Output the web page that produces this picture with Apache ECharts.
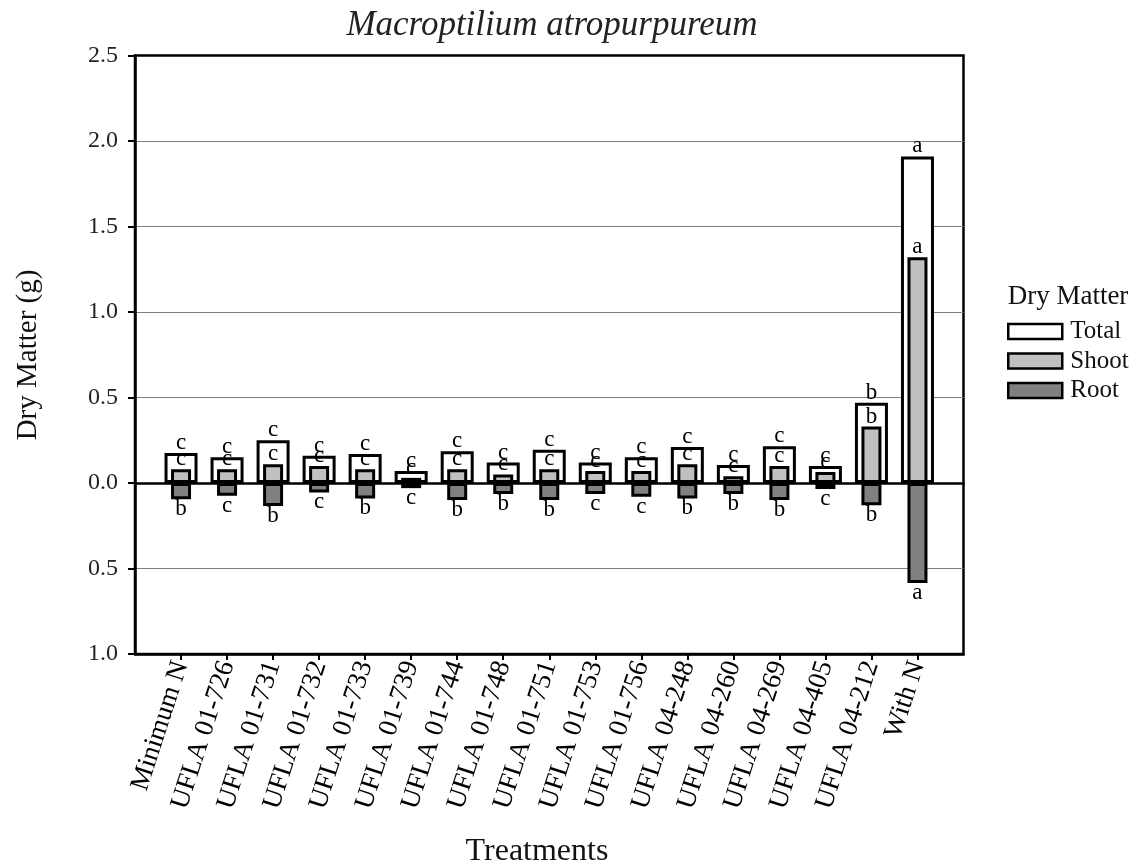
<!DOCTYPE html>
<html>
<head>
<meta charset="utf-8">
<script src="https://cdn.jsdelivr.net/npm/echarts@6/dist/echarts.min.js"></script>
<style>html,body{margin:0;padding:0;background:#fff}#c{width:1137px;height:866px}</style>
</head>
<body>
<div id="c"></div>
<script>
const categories = ['Minimum N','UFLA 01-726','UFLA 01-731','UFLA 01-732','UFLA 01-733','UFLA 01-739','UFLA 01-744','UFLA 01-748','UFLA 01-751','UFLA 01-753','UFLA 01-756','UFLA 04-248','UFLA 04-260','UFLA 04-269','UFLA 04-405','UFLA 04-212','With N'];
const totalValues = [0.175,0.15,0.25,0.16,0.17,0.07,0.185,0.12,0.195,0.12,0.15,0.21,0.105,0.215,0.10,0.47,1.91];
const shootValues = [0.08,0.08,0.11,0.10,0.08,0.03,0.08,0.05,0.08,0.07,0.07,0.11,0.04,0.10,0.065,0.33,1.32];
const rootValues = [-0.095,-0.075,-0.135,-0.055,-0.09,-0.03,-0.10,-0.065,-0.10,-0.065,-0.08,-0.09,-0.065,-0.10,-0.035,-0.13,-0.585];
const totalLetters = ['c','c','c','c','c','c','c','c','c','c','c','c','c','c','c','b','a'];
const shootLetters = ['c','c','c','c','c','c','c','c','c','c','c','c','c','c','c','b','a'];
const rootLetters = ['b','c','b','c','b','c','b','b','b','c','c','b','b','b','c','b','a'];

const FONT = 'Liberation Serif';
const pad = a => [null, ...a, null];
const xCats = ['', ...categories, ''];
const inner = (i) => i > 0 && i < xCats.length - 1;
const letterLabel = (letters, pos) => ({
  show: true, position: pos, distance: 0,
  fontFamily: FONT, fontSize: 23, color: '#000', lineHeight: 20,
  formatter: p => letters[p.dataIndex - 1] || ''
});
const border = {borderColor: '#000', borderWidth: 3};

const chart = echarts.init(document.getElementById('c'));
chart.setOption({
  animation: false,
  backgroundColor: '#fff',
  grid: {left: 135, right: 173.5, top: 55.5, bottom: 212, show: true, borderColor: '#000', borderWidth: 2.5, backgroundColor: 'transparent'},
  xAxis: [{
    type: 'category', data: xCats, boundaryGap: false, position: 'bottom',
    axisLine: {onZero: false, lineStyle: {color: '#000', width: 2.5}},
    axisTick: {show: true, length: 6, lineStyle: {color: '#000', width: 2}, interval: inner},
    axisLabel: {interval: 0, rotate: 72, margin: 8, fontFamily: FONT, fontSize: 27, color: '#000'},
    splitLine: {show: false}
  }, {
    type: 'category', data: xCats, boundaryGap: false, position: 'bottom',
    axisLine: {onZero: true, lineStyle: {color: '#000', width: 2.5}},
    axisTick: {show: false}, axisLabel: {show: false}, splitLine: {show: false}
  }],
  yAxis: {
    type: 'value', min: -1, max: 2.5, interval: 0.5,
    axisLine: {show: true, lineStyle: {color: '#000', width: 2.5}},
    axisTick: {show: true, length: 7, lineStyle: {color: '#000', width: 2}},
    axisLabel: {margin: 17, fontFamily: FONT, fontSize: 24, color: '#222', formatter: v => Math.abs(v).toFixed(1)},
    splitLine: {show: true, showMinLine: false, showMaxLine: false, lineStyle: {color: '#808080', width: 1.2}}
  },
  legend: {
    orient: 'vertical', left: 1007, top: 319, padding: 0, itemWidth: 54, itemHeight: 15, itemGap: 4.5,
    icon: 'rect',
    textStyle: {fontFamily: FONT, fontSize: 25, color: '#111', padding: [0, 0, 0, 3]},
    itemStyle: {borderColor: '#000', borderWidth: 2.5},
    data: ['Total', 'Shoot', 'Root']
  },
  graphic: [
    {type: 'text', x: 552, y: 26, style: {text: 'Macroptilium atropurpureum', font: 'italic 35px "Liberation Serif"', fill: '#222', textAlign: 'center', textVerticalAlign: 'middle'}},
    {type: 'text', x: 28, y: 355, rotation: Math.PI / 2, style: {text: 'Dry Matter (g)', font: '29px "Liberation Serif"', fill: '#111', textAlign: 'center', textVerticalAlign: 'middle'}},
    {type: 'text', x: 537, y: 852, style: {text: 'Treatments', font: '32px "Liberation Serif"', fill: '#111', textAlign: 'center', textVerticalAlign: 'middle'}},
    {type: 'text', x: 1068, y: 297, style: {text: 'Dry Matter', font: '27px "Liberation Serif"', fill: '#111', textAlign: 'center', textVerticalAlign: 'middle'}}
  ],
  series: [{
    name: 'Total', type: 'bar', xAxisIndex: 1, barWidth: 33, z: 2,
    data: pad(totalValues),
    itemStyle: Object.assign({color: '#ffffff'}, border),
    label: letterLabel(totalLetters, 'top')
  }, {
    name: 'Shoot', type: 'bar', xAxisIndex: 0, barWidth: 20, barGap: '-100%', z: 3,
    data: pad(shootValues),
    itemStyle: Object.assign({color: '#c0c0c0'}, border),
    label: letterLabel(shootLetters, 'top')
  }, {
    name: 'Root', type: 'bar', xAxisIndex: 0, barWidth: 20, barGap: '-100%', z: 3,
    data: pad(rootValues),
    itemStyle: Object.assign({color: '#808080'}, border),
    label: letterLabel(rootLetters, 'bottom')
  }]
});
</script>
</body>
</html>
